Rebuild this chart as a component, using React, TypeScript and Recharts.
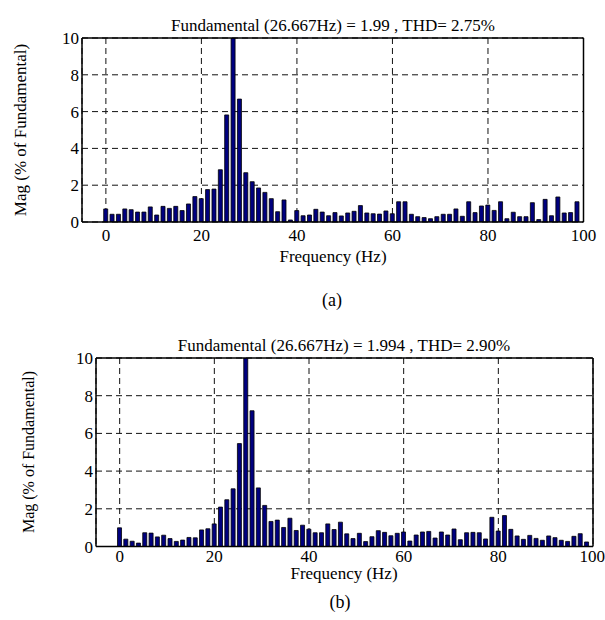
import React from "react";
import { BarChart, Bar, XAxis, YAxis, CartesianGrid, ReferenceLine } from "recharts";

// Harmonic frequencies (Hz), resolution 26.667/20 Hz
const FREQ = [
  0, 1.33, 2.67, 4, 5.33, 6.67, 8, 9.33, 10.67, 12, 13.33, 14.67, 16, 17.33, 18.67,
  20, 21.33, 22.67, 24, 25.33, 26.67, 28, 29.33, 30.67, 32, 33.33, 34.67, 36, 37.33, 38.67,
  40, 41.33, 42.67, 44, 45.33, 46.67, 48, 49.33, 50.67, 52, 53.33, 54.67, 56, 57.33, 58.67,
  60, 61.33, 62.67, 64, 65.33, 66.67, 68, 69.33, 70.67, 72, 73.33, 74.67, 76, 77.33, 78.67,
  80, 81.33, 82.67, 84, 85.33, 86.67, 88, 89.33, 90.67, 92, 93.33, 94.67, 96, 97.33, 98.67,
];

// (a) magnitudes, % of fundamental
const MAG_A = [
  0.71, 0.42, 0.42, 0.71, 0.67, 0.54, 0.54, 0.82, 0.38, 0.85,
  0.74, 0.85, 0.62, 0.98, 1.38, 1.27, 1.76, 1.79, 2.84, 5.82,
  10, 6.68, 2.68, 2.19, 1.85, 1.61, 1.27, 0.56, 1.2, 0.11,
  0.62, 0.34, 0.38, 0.69, 0.54, 0.34, 0.51, 0.33, 0.49, 0.58,
  0.89, 0.49, 0.45, 0.43, 0.6, 0.45, 1.1, 1.1, 0.42, 0.29,
  0.24, 0.18, 0.29, 0.42, 0.42, 0.71, 0.31, 1.1, 0.51, 0.87,
  0.92, 0.63, 1.1, 0.18, 0.53, 0.29, 0.29, 1.05, 0.13, 1.23,
  0.34, 1.36, 0.49, 0.51, 1.1,
];

// (b) magnitudes, % of fundamental
const MAG_B = [
  0.99, 0.39, 0.28, 0.18, 0.73, 0.71, 0.51, 0.6, 0.42, 0.27,
  0.34, 0.48, 0.46, 0.88, 0.94, 1.2, 2.09, 2.48, 3.06, 5.46,
  10, 7.2, 3.11, 2.18, 1.33, 1.4, 1.01, 1.5, 0.85, 1.13,
  0.92, 0.73, 0.73, 1.2, 0.9, 1.29, 0.67, 0.42, 0.7, 0.26,
  0.52, 0.84, 0.75, 0.57, 0.7, 0.77, 0.29, 0.61, 0.77, 0.8,
  0.45, 0.77, 0.61, 0.93, 0.36, 0.73, 0.75, 0.73, 0.4, 1.55,
  0.82, 1.64, 0.91, 0.56, 0.38, 0.59, 0.43, 0.33, 0.56, 0.47,
  0.33, 0.27, 0.54, 0.68, 0.24,
];

const X_TICKS = [0, 20, 40, 60, 80, 100];
const Y_TICKS = [0, 2, 4, 6, 8, 10];
const X_DOMAIN = [-5, 100];
const Y_DOMAIN = [0, 10];

const TITLE_A = "Fundamental (26.667Hz) = 1.99 , THD= 2.75%";
const TITLE_B = "Fundamental (26.667Hz) = 1.994 , THD= 2.90%";
const X_LABEL = "Frequency (Hz)";
const Y_LABEL = "Mag (% of Fundamental)";
const CAPTION_A = "(a)";
const CAPTION_B = "(b)";

const FONT = '"Liberation Serif", "DejaVu Serif", serif';
const BAR_FILL = "#00007f";

const data = FREQ.map((f, i) => ({ f, a: MAG_A[i], b: MAG_B[i] }));

type SpecProps = {
  dataKey: string;
  top: number;
  yAxisWidth: number;
  rightMargin: number;
  bottomMargin: number;
  xTickMargin: number;
};

function Spectrum({ dataKey, top, yAxisWidth, rightMargin, bottomMargin, xTickMargin }: SpecProps) {
  const tickStyle = { fontSize: 17, fill: "#000", fontFamily: FONT };
  return (
    <div style={{ position: "absolute", left: 0, top, width: 605, height: 300 }}>
      <BarChart
        width={605}
        height={300}
        data={data}
        margin={{ top: 38, right: rightMargin, left: 0, bottom: bottomMargin }}
      >
        <CartesianGrid stroke="#111" strokeWidth={1} strokeDasharray="6 4" />
        <XAxis
          dataKey="f"
          type="number"
          domain={X_DOMAIN}
          ticks={X_TICKS}
          allowDataOverflow
          height={30}
          tickLine={false}
          tickSize={0}
          tickMargin={xTickMargin}
          axisLine={{ stroke: "#000", strokeWidth: 1.5 }}
          tick={tickStyle}
        />
        <YAxis
          type="number"
          domain={Y_DOMAIN}
          ticks={Y_TICKS}
          allowDataOverflow
          width={yAxisWidth}
          tickLine={false}
          tickSize={0}
          tickMargin={3}
          axisLine={{ stroke: "#000", strokeWidth: 1.5 }}
          tick={tickStyle}
        />
        <Bar
          dataKey={dataKey}
          fill={BAR_FILL}
          stroke="#000"
          strokeWidth={0.8}
          barSize={4}
          isAnimationActive={false}
        />
        <ReferenceLine y={10} stroke="#000" strokeWidth={1.5} />
        <ReferenceLine x={100} stroke="#000" strokeWidth={1.5} />
      </BarChart>
    </div>
  );
}

export default function App() {
  const txt = { fontFamily: FONT, fill: "#000" };
  return (
    <div style={{ position: "absolute", left: 0, top: 0, width: 605, height: 620, background: "#fff", fontFamily: FONT }}>
      <Spectrum dataKey="a" top={0} yAxisWidth={82} rightMargin={21.5} bottomMargin={48} xTickMargin={7} />
      <Spectrum dataKey="b" top={320} yAxisWidth={96} rightMargin={12} bottomMargin={43.5} xTickMargin={3} />
      <svg
        width={605}
        height={620}
        style={{ position: "absolute", left: 0, top: 0, pointerEvents: "none" }}
      >
        <text x={333} y={31} textAnchor="middle" fontSize={17} style={txt}>{TITLE_A}</text>
        <text x={333} y={262} textAnchor="middle" fontSize={17} style={txt}>{X_LABEL}</text>
        <text x={332} y={306} textAnchor="middle" fontSize={18} style={txt}>{CAPTION_A}</text>
        <text
          x={0}
          y={0}
          textAnchor="middle"
          fontSize={17}
          style={txt}
          transform="translate(26,130) rotate(-90)"
        >
          {Y_LABEL}
        </text>

        <text x={344} y={351} textAnchor="middle" fontSize={17} style={txt}>{TITLE_B}</text>
        <text x={344} y={579} textAnchor="middle" fontSize={17} style={txt}>{X_LABEL}</text>
        <text x={340} y={608} textAnchor="middle" fontSize={18} style={txt}>{CAPTION_B}</text>
        <text
          x={0}
          y={0}
          textAnchor="middle"
          fontSize={16}
          style={txt}
          transform="translate(34,452) rotate(-90)"
        >
          {Y_LABEL}
        </text>
      </svg>
    </div>
  );
}
